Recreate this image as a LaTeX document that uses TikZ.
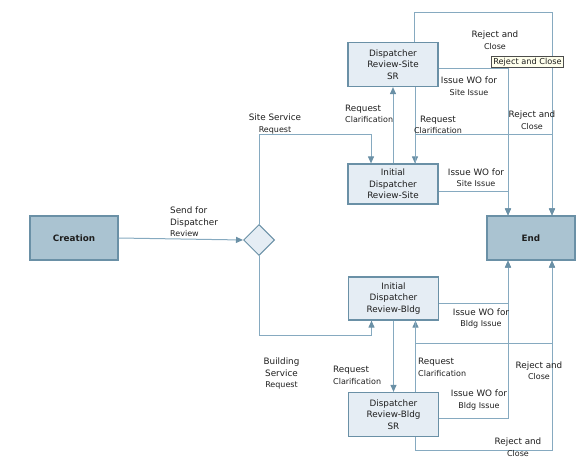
\documentclass[tikz,border=0pt]{standalone}
\usepackage{fontspec}
\setmainfont{DejaVu Sans}
\usetikzlibrary{shapes.geometric}
\usetikzlibrary{positioning,calc}
\usetikzlibrary{arrows.meta}
\definecolor{edgeblue}{HTML}{86AAC0}
\definecolor{boxline}{HTML}{6A90A6}
\definecolor{boxfill}{HTML}{E5EDF4}
\definecolor{termfill}{HTML}{AAC3D1}
\definecolor{txt}{HTML}{1E1E1E}
\definecolor{tipfill}{HTML}{FFFFEC}
\tikzstyle{stepbox}=[rectangle,draw=boxline,fill=boxfill,line width=1.2pt,minimum width=90pt,minimum height=44pt,inner sep=0pt,align=center,text=txt,font=\fontsize{8.8}{11.7}\selectfont]
\tikzstyle{termbox}=[stepbox,fill=termfill,minimum width=88pt,font=\fontsize{8.8}{11.7}\selectfont\bfseries]
\tikzstyle{choice}=[diamond,draw=boxline,fill=boxfill,line width=1pt,minimum width=31pt,minimum height=31pt,inner sep=0pt]
\newcommand*{\lastline}[1]{{\fontsize{8}{11.5}\selectfont #1}}
\tikzset{flow/.style={->,>={Triangle[length=7pt,width=6pt,color=boxline]},draw=edgeblue,line width=1pt},
  lbl/.style={text=txt,align=center,inner sep=0pt,font=\fontsize{8.8}{11.5}\selectfont},
  tooltip/.style={draw=black!70,fill=tipfill,line width=0.6pt,inner sep=1.6pt,text=txt,font=\fontsize{8.2}{9}\selectfont}
}

\begin{document}
\begin{tikzpicture}[x=1pt,y=-1pt]
    \useasboundingbox (0,0) rectangle (581,463);
    \node [termbox] (creation) at (74,238) {Creation};
    \node [choice] (split) at (259,240) {};
    \node [stepbox] (sitesr) at (393,64.5) {Dispatcher\\Review-Site\\SR};
    \node [stepbox,minimum height=40pt] (siteinit) at (393,184) {Initial\\Dispatcher\\Review-Site};
    \node [termbox] (endnode) at (531,238) {End};
    \node [stepbox,minimum height=43pt] (bldginit) at (393.5,298.5) {Initial\\Dispatcher\\Review-Bldg};
    \node [stepbox] (bldgsr) at (393.5,414.5) {Dispatcher\\Review-Bldg\\SR};

    % entry and branches
    \draw [flow] (creation.east) -- (split.west);
    \draw [flow] (split.north) -- ++(0,-90) -| ($(siteinit.north)+(-22,0)$);
    \draw [flow] (split.south) -- ++(0,79) -| ($(bldginit.south)+(-22,0)$);

    % site service
    \draw [flow] (siteinit.north) -- (sitesr.south);
    \draw [flow] ($(sitesr.south)+(22,0)$) -- ($(siteinit.north)+(22,0)$);
    \draw [flow] ($(sitesr.north)+(21,0)$) -- ++(0,-29) -| ($(endnode.north)+(21,0)$);
    \draw [flow] ($(sitesr.east)+(0,3.5)$) -| ($(endnode.north)+(-23,0)$);
    \draw [flow] ($(siteinit.north)+(22,0)$) -- ++(0,-29) -| ($(endnode.north)+(21,0)$);
    \draw [flow] ($(siteinit.east)+(0,7)$) -| ($(endnode.north)+(-23,0)$);

    % building service
    \draw [flow] ($(bldginit.east)+(0,4.5)$) -| ($(endnode.south)+(-23,0)$);
    \draw [flow] (bldginit.south) -- (bldgsr.north);
    \draw [flow] ($(bldgsr.north)+(22,0)$) -- ($(bldginit.south)+(22,0)$);
    \draw [flow] ($(bldginit.south)+(22,0)$) -- ++(0,23) -| ($(endnode.south)+(21,0)$);
    \draw [flow] ($(bldgsr.east)+(0,3.5)$) -| ($(endnode.south)+(-23,0)$);
    \draw [flow] ($(bldgsr.south)+(22,0)$) -- ++(0,13) -| ($(endnode.south)+(21,0)$);

    % labels
    \node [lbl,align=left,anchor=west] (sendlbl) at (170,222) {Send for\\Dispatcher\\\lastline{Review}};
    \node [lbl] (sitelbl) at (275,124) {Site Service\\\lastline{Request}};
    \node [lbl] (bldglbl) at (281.5,373.5) {Building\\Service\\\lastline{Request}};
    \node [lbl,align=left,anchor=west] (siteclarA) at (345,114) {Request\\\lastline{Clarification}};
    \node [lbl] (siteclarB) at (438,125) {Request\\\lastline{Clarification}};
    \node [lbl] (siteissueA) at (469,86) {Issue WO for\\\lastline{Site Issue}};
    \node [lbl] (siterejA) at (495,40) {Reject and\\\lastline{Close}};
    \node [tooltip] (tip) at (527.5,62) {Reject and Close};
    \node [lbl] (siterejB) at (532,120) {Reject and\\\lastline{Close}};
    \node [lbl] (siteissueB) at (476,177.5) {Issue WO for\\\lastline{Site Issue}};
    \node [lbl] (bldgissueA) at (481,318.5) {Issue WO for\\\lastline{Bldg Issue}};
    \node [lbl,align=left,anchor=west] (bldgclarA) at (333,375.5) {Request\\\lastline{Clarification}};
    \node [lbl,align=left,anchor=west] (bldgclarB) at (418,367.5) {Request\\\lastline{Clarification}};
    \node [lbl] (bldgrejA) at (539,370.5) {Reject and\\\lastline{Close}};
    \node [lbl] (bldgissueB) at (479,400) {Issue WO for\\\lastline{Bldg Issue}};
    \node [lbl] (bldgrejB) at (518,447) {Reject and\\\lastline{Close}};
\end{tikzpicture}
\end{document}
